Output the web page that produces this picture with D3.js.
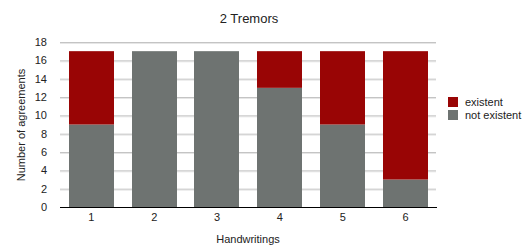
<!DOCTYPE html>
<html lang="en">
<head>
  <meta charset="UTF-8">
  <script src="https://d3js.org/d3.v7.min.js"></script>
  <style>
body { margin: 0; background: #fff; }
svg text { font-family: "Liberation Sans", "DejaVu Sans", sans-serif; fill: #222; }
.grid line { stroke: #c4c4c4; stroke-width: 1px; }
.grid .shadow { stroke: #e6e6e6; }
</style>
</head>
<body>
<svg width="531" height="246"></svg>
<script>
const categories = ["1", "2", "3", "4", "5", "6"];
const notExistent = [9, 17, 17, 13, 9, 3];
const existent = [8, 0, 0, 4, 8, 14];
const seriesNames = ["existent", "not existent"];
const yTicks = [0, 2, 4, 6, 8, 10, 12, 14, 16, 18];
const colors = { "existent": "#990505", "not existent": "#6e7371" };

const svg = d3.select("svg");
const plotL = 60, plotR = 437, plotT = 42, plotB = 207;

const x = d3.scaleBand().domain(categories).range([plotL, plotR]).paddingInner(0.28).paddingOuter(0.14);
const y = d3.scaleLinear().domain([0, 18]).range([plotB, plotT]);

// gridlines
const grid = svg.append("g").attr("class", "grid");
yTicks.filter(t => t > 0).forEach(t => {
  grid.append("line").attr("class", "shadow")
    .attr("x1", plotL).attr("x2", plotR - 1)
    .attr("y1", y(t) + 1.5).attr("y2", y(t) + 1.5);
  grid.append("line")
    .attr("x1", plotL).attr("x2", plotR - 1)
    .attr("y1", y(t) + 0.5).attr("y2", y(t) + 0.5);
});

// stacked bars
const rows = categories.map((c, i) => ({ cat: c, "not existent": notExistent[i], "existent": existent[i] }));
const stack = d3.stack().keys(["not existent", "existent"])(rows);

svg.append("g").selectAll("g")
  .data(stack)
  .join("g")
  .attr("fill", d => colors[d.key])
  .selectAll("rect")
  .data(d => d.filter(p => p[1] > p[0]))
  .join("rect")
  .attr("x", d => Math.round(x(d.data.cat)))
  .attr("width", Math.round(x.bandwidth()))
  .attr("y", d => y(d[1]))
  .attr("height", d => y(d[0]) - y(d[1]));

// y axis labels
svg.append("g").selectAll("text")
  .data(yTicks)
  .join("text")
  .attr("x", 47)
  .attr("y", d => y(d) + 4)
  .attr("text-anchor", "end")
  .attr("font-size", 11)
  .text(d => d);

// x axis line
svg.append("line")
  .attr("x1", plotL).attr("x2", plotR)
  .attr("y1", plotB + 0.5).attr("y2", plotB + 0.5)
  .attr("stroke", "#000").attr("stroke-width", 1.2);

svg.append("g").selectAll("text")
  .data(categories)
  .join("text")
  .attr("x", d => x(d) + x.bandwidth() / 2)
  .attr("y", 221)
  .attr("text-anchor", "middle")
  .attr("font-size", 11)
  .text(d => d);

// title and axis titles
svg.append("text")
  .attr("x", 249).attr("y", 23)
  .attr("text-anchor", "middle")
  .attr("font-size", 13)
  .text("2 Tremors");

svg.append("text")
  .attr("x", 248).attr("y", 243)
  .attr("text-anchor", "middle")
  .attr("font-size", 11)
  .text("Handwritings");

svg.append("text")
  .attr("transform", "translate(25,125) rotate(-90)")
  .attr("text-anchor", "middle")
  .attr("font-size", 11)
  .text("Number of agreements");

// legend
const legend = svg.append("g").selectAll("g")
  .data(seriesNames)
  .join("g")
  .attr("transform", (d, i) => `translate(448,${97 + i * 13})`);
legend.append("rect").attr("width", 10).attr("height", 10).attr("fill", d => colors[d]);
legend.append("text").attr("x", 17).attr("y", 9).attr("font-size", 11).text(d => d);
</script>
</body>
</html>
